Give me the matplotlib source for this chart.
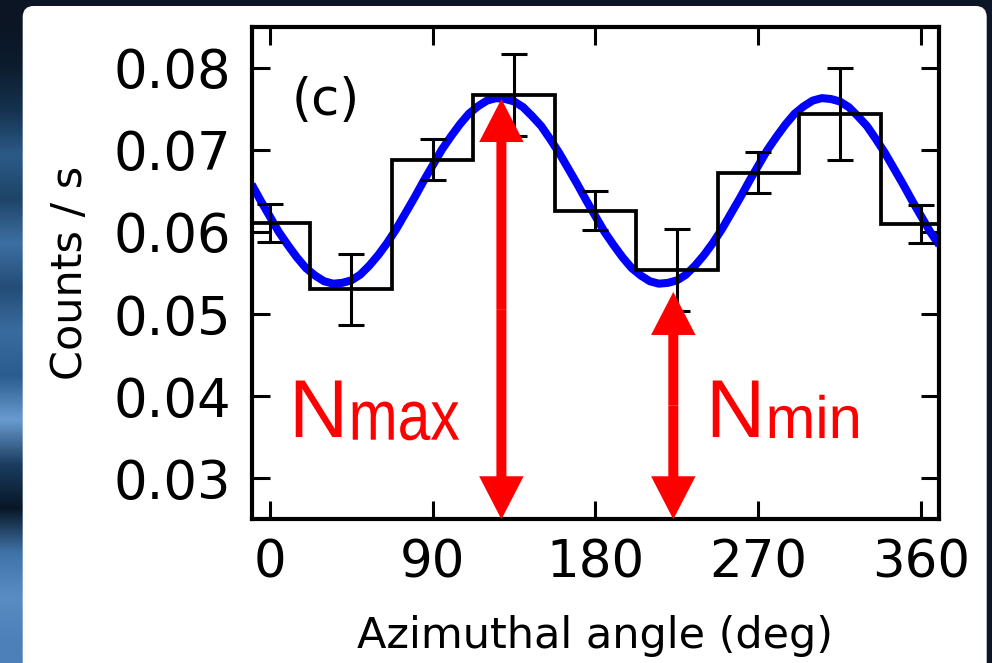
"""Azimuthal-angle count rate with the cos(2 phi) fit and the N_max / N_min arrows, panel (c)."""

import matplotlib as mpl

mpl.use("Agg")
import matplotlib.pyplot as plt
import numpy as np
from matplotlib.font_manager import FontProperties
from matplotlib.patches import ArrowStyle, FancyArrowPatch, FancyBboxPatch, PathPatch
from matplotlib.textpath import TextPath
from matplotlib.ticker import FormatStrFormatter
from matplotlib.transforms import Affine2D, ScaledTranslation


# measured count rate, one value per 45 deg bin
BIN_CENTERS = [0, 45, 90, 135, 180, 225, 270, 315, 360]
BIN_WIDTH = 45
COUNT_RATE = [0.0611, 0.0530, 0.0688, 0.0767, 0.0626, 0.0554, 0.0672, 0.0744, 0.0610]
COUNT_ERR = [0.0023, 0.0043, 0.0025, 0.0050, 0.0024, 0.0050, 0.0025, 0.0056, 0.0023]

FIT_ANGLE = list(range(-10, 371, 5))
FIT_RATE = [
    0.0658, 0.0638, 0.0619, 0.0600, 0.0584, 0.0569, 0.0556, 0.0547, 0.0540, 0.0537,
    0.0538, 0.0541, 0.0548, 0.0559, 0.0572, 0.0587, 0.0604, 0.0623, 0.0642, 0.0662,
    0.0681, 0.0700, 0.0716, 0.0731, 0.0744, 0.0753, 0.0760, 0.0763, 0.0762, 0.0759,
    0.0752, 0.0741, 0.0729, 0.0713, 0.0696, 0.0677, 0.0658, 0.0638,
    0.0619, 0.0600, 0.0584, 0.0569, 0.0556, 0.0547, 0.0540, 0.0537,
    0.0538, 0.0541, 0.0548, 0.0559, 0.0572, 0.0587, 0.0604, 0.0623, 0.0642, 0.0662,
    0.0681, 0.0700, 0.0716, 0.0731, 0.0744, 0.0753, 0.0760, 0.0763, 0.0762, 0.0759,
    0.0752, 0.0741, 0.0729, 0.0713, 0.0696, 0.0677, 0.0658, 0.0638,
    0.0619, 0.0600, 0.0584,
]

# N_max / N_min markers: angle and level of the arrow tip
ARROW_ANGLES = [128, 223]
ARROW_LEVELS = [0.0762, 0.0527]
ARROW_SUBSCRIPTS = ["max", "min"]

X_TICKS = [0, 90, 180, 270, 360]
Y_TICKS = [0.03, 0.04, 0.05, 0.06, 0.07, 0.08]
XLIM = (-10, 370)
YLIM = (0.025, 0.085)

# colours of the photo strip left of the white card, top to bottom
STRIP_COLORS = [
    "#0b1524", "#0d1c2e", "#15324f", "#2c5a88", "#1f4468", "#3d6fa3", "#244d78",
    "#3a6c9f", "#2b5c8f", "#6a9bd0", "#1b3d60", "#081726", "#3f73a8", "#5a8cc4",
    "#4d7fb8",
]

# label placement (data coordinates); subscripts: font size, horizontal squeeze
N_POS = [(10.2, 0.0350), (240.4, 0.0350)]
SUB_POS = [(43.6, 0.0347), (274.0, 0.0349)]
SUB_STYLE = [(51, 0.83), (43, 1.0)]


def squeezed_text(ax, x, y, text, size, stretch, color):
    """Text drawn as a path so it can be narrowed horizontally."""
    path = TextPath((0, 0), text, size=size, prop=FontProperties(family="Liberation Sans"))
    px = ax.figure.dpi / 72
    trans = Affine2D().scale(px * stretch, px) + ScaledTranslation(x, y, ax.transData)
    ax.add_patch(PathPatch(path, transform=trans, facecolor=color, lw=0, zorder=6))


mpl.rcParams.update(
    {
        "font.family": "DejaVu Sans",
        "axes.linewidth": 3.0,
        "xtick.direction": "in",
        "ytick.direction": "in",
        "xtick.top": True,
        "ytick.right": True,
        "xtick.major.size": 13,
        "ytick.major.size": 13,
        "xtick.major.width": 2.2,
        "ytick.major.width": 2.2,
        "xtick.major.pad": 14,
        "ytick.major.pad": 15,
        "xtick.labelsize": 37,
        "ytick.labelsize": 38,
    }
)

fig = plt.figure(figsize=(9.92, 6.63), dpi=100, facecolor="#0c1626")

# photo strip on the left edge
strip_ax = fig.add_axes([0, 0, 0.03, 1])
strip = np.array([mpl.colors.to_rgb(c) for c in STRIP_COLORS])[:, None, :]
strip_ax.imshow(strip, aspect="auto", interpolation="bilinear", extent=(0, 1, 0, 1))
strip_ax.set_axis_off()

# white rounded card
card = FancyBboxPatch(
    (0.227, -0.3),
    9.64,
    6.57 + 0.3,
    boxstyle="round,pad=0,rounding_size=0.11",
    transform=fig.dpi_scale_trans,
    facecolor="white",
    edgecolor="none",
    zorder=1,
)
fig.patches.append(card)

ax = fig.add_axes([0.2537, 0.2167, 0.6932, 0.7430])
ax.set_zorder(2)
ax.set_facecolor("white")
ax.set_xlim(*XLIM)
ax.set_ylim(*YLIM)

centers = np.asarray(BIN_CENTERS, dtype=float)
edges = np.append(centers - BIN_WIDTH / 2, centers[-1] + BIN_WIDTH / 2)

ax.plot(FIT_ANGLE, FIT_RATE, color="#0000ff", lw=5.8, solid_joinstyle="round",
        solid_capstyle="butt", zorder=2)
ax.stairs(COUNT_RATE, edges, baseline=None, color="black", lw=2.7, zorder=3)
ax.errorbar(BIN_CENTERS, COUNT_RATE, yerr=COUNT_ERR, fmt="none", ecolor="black",
            elinewidth=2.2, capsize=9.4, capthick=2.2, zorder=4)

head = ArrowStyle.Simple(head_length=31, head_width=32, tail_width=7.2)
for angle, level in zip(ARROW_ANGLES, ARROW_LEVELS):
    mid = (level + YLIM[0]) / 2
    for end in (level, YLIM[0]):
        ax.add_patch(
            FancyArrowPatch(
                (angle, mid), (angle, end), arrowstyle=head, mutation_scale=1,
                color="#ff0000", lw=0, shrinkA=0, shrinkB=0, zorder=5,
            )
        )

for (nx, ny), (sx, sy), sub, (size, stretch) in zip(N_POS, SUB_POS, ARROW_SUBSCRIPTS, SUB_STYLE):
    ax.text(nx, ny, "N", color="#ff0000", fontsize=59, family="Liberation Sans",
            ha="left", va="baseline", zorder=6)
    squeezed_text(ax, sx, sy, sub, size, stretch, "#ff0000")

ax.text(0.058, 0.821, "(c)", transform=ax.transAxes, fontsize=37,
        ha="left", va="baseline")

ax.set_xlim(*XLIM)
ax.set_ylim(*YLIM)
ax.set_xticks(X_TICKS)
ax.set_yticks(Y_TICKS)
ax.yaxis.set_major_formatter(FormatStrFormatter("%.2f"))
ax.set_xlabel("Azimuthal angle (deg)", fontsize=31)
ax.set_ylabel("Counts / s", fontsize=31)
ax.xaxis.set_label_coords(0.5, -0.195)
ax.yaxis.set_label_coords(-0.234, 0.5)

fig.savefig("out.png", dpi=100, facecolor=fig.get_facecolor())
